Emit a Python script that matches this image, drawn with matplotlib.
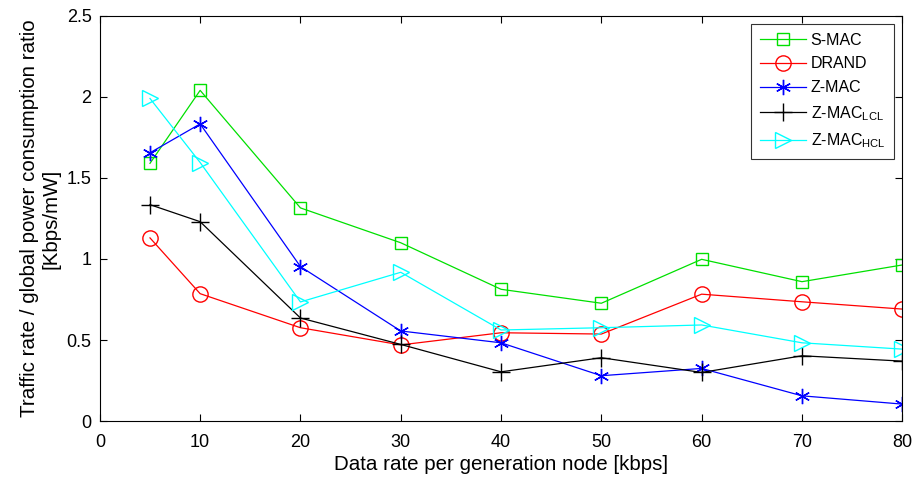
import matplotlib
matplotlib.use("Agg")
import matplotlib.pyplot as plt

plt.rcParams["font.family"] = ["Liberation Sans", "DejaVu Sans"]

# Data rate per generation node [kbps]
rates = [5, 10, 20, 30, 40, 50, 60, 70, 80]

smac = [1.59, 2.04, 1.315, 1.10, 0.813, 0.727, 0.998, 0.86, 0.963]
drand = [1.13, 0.786, 0.576, 0.47, 0.545, 0.537, 0.783, 0.736, 0.691]
zmac = [1.655, 1.833, 0.953, 0.556, 0.483, 0.28, 0.325, 0.156, 0.105]
zmac_lcl = [1.335, 1.23, 0.636, 0.473, 0.304, 0.391, 0.30, 0.403, 0.37]
zmac_hcl = [1.99, 1.595, 0.735, 0.918, 0.562, 0.576, 0.593, 0.483, 0.444]

fig = plt.figure(figsize=(9.16, 4.78), dpi=100)
ax = fig.add_axes([0.109, 0.119, 0.876, 0.848])

lw = 0.9
ax.plot(rates, smac, color="#00e000", marker="s", ms=9, mfc="none", lw=lw, label="S-MAC")
ax.plot(rates, drand, color="#ff0000", marker="o", ms=11, mfc="none", lw=lw, label="DRAND")
# asterisk marker (6 spokes)
ax.plot(rates, zmac, color="#0000ff", marker=(6, 2, 0), ms=11, mew=1.0, lw=lw, label="Z-MAC")
ax.plot(rates, zmac_lcl, color="black", marker="+", ms=13, mew=1.0, lw=lw,
        label=r"Z-MAC$_{\mathregular{LCL}}$")
ax.plot(rates, zmac_hcl, color="#00ffff", marker=">", ms=11, mfc="none", lw=lw,
        label=r"Z-MAC$_{\mathregular{HCL}}$")

ax.set_xlim(0, 80)
ax.set_ylim(0, 2.5)
ax.set_xticks(range(0, 81, 10))
ax.set_yticks([0, 0.5, 1, 1.5, 2, 2.5])
ax.set_yticklabels(["0", "0.5", "1", "1.5", "2", "2.5"])
ax.tick_params(direction="in", top=True, right=True, labelsize=13, length=5)
ax.tick_params(axis="x", pad=9)
ax.tick_params(axis="y", pad=6)

ax.set_xlabel("Data rate per generation node [kbps]", fontsize=14.8, labelpad=3)
ax.set_ylabel("Traffic rate / global power consumption ratio\n[Kbps/mW]", fontsize=14.8,
              labelpad=4)

leg = ax.legend(loc="upper right", fontsize=11.5, frameon=True, fancybox=False,
                edgecolor="black", borderpad=0.55, labelspacing=0.55, handlelength=2.9,
                handletextpad=0.3, borderaxespad=0.5)
leg.get_frame().set_linewidth(0.8)

fig.savefig("out.png", dpi=100)
